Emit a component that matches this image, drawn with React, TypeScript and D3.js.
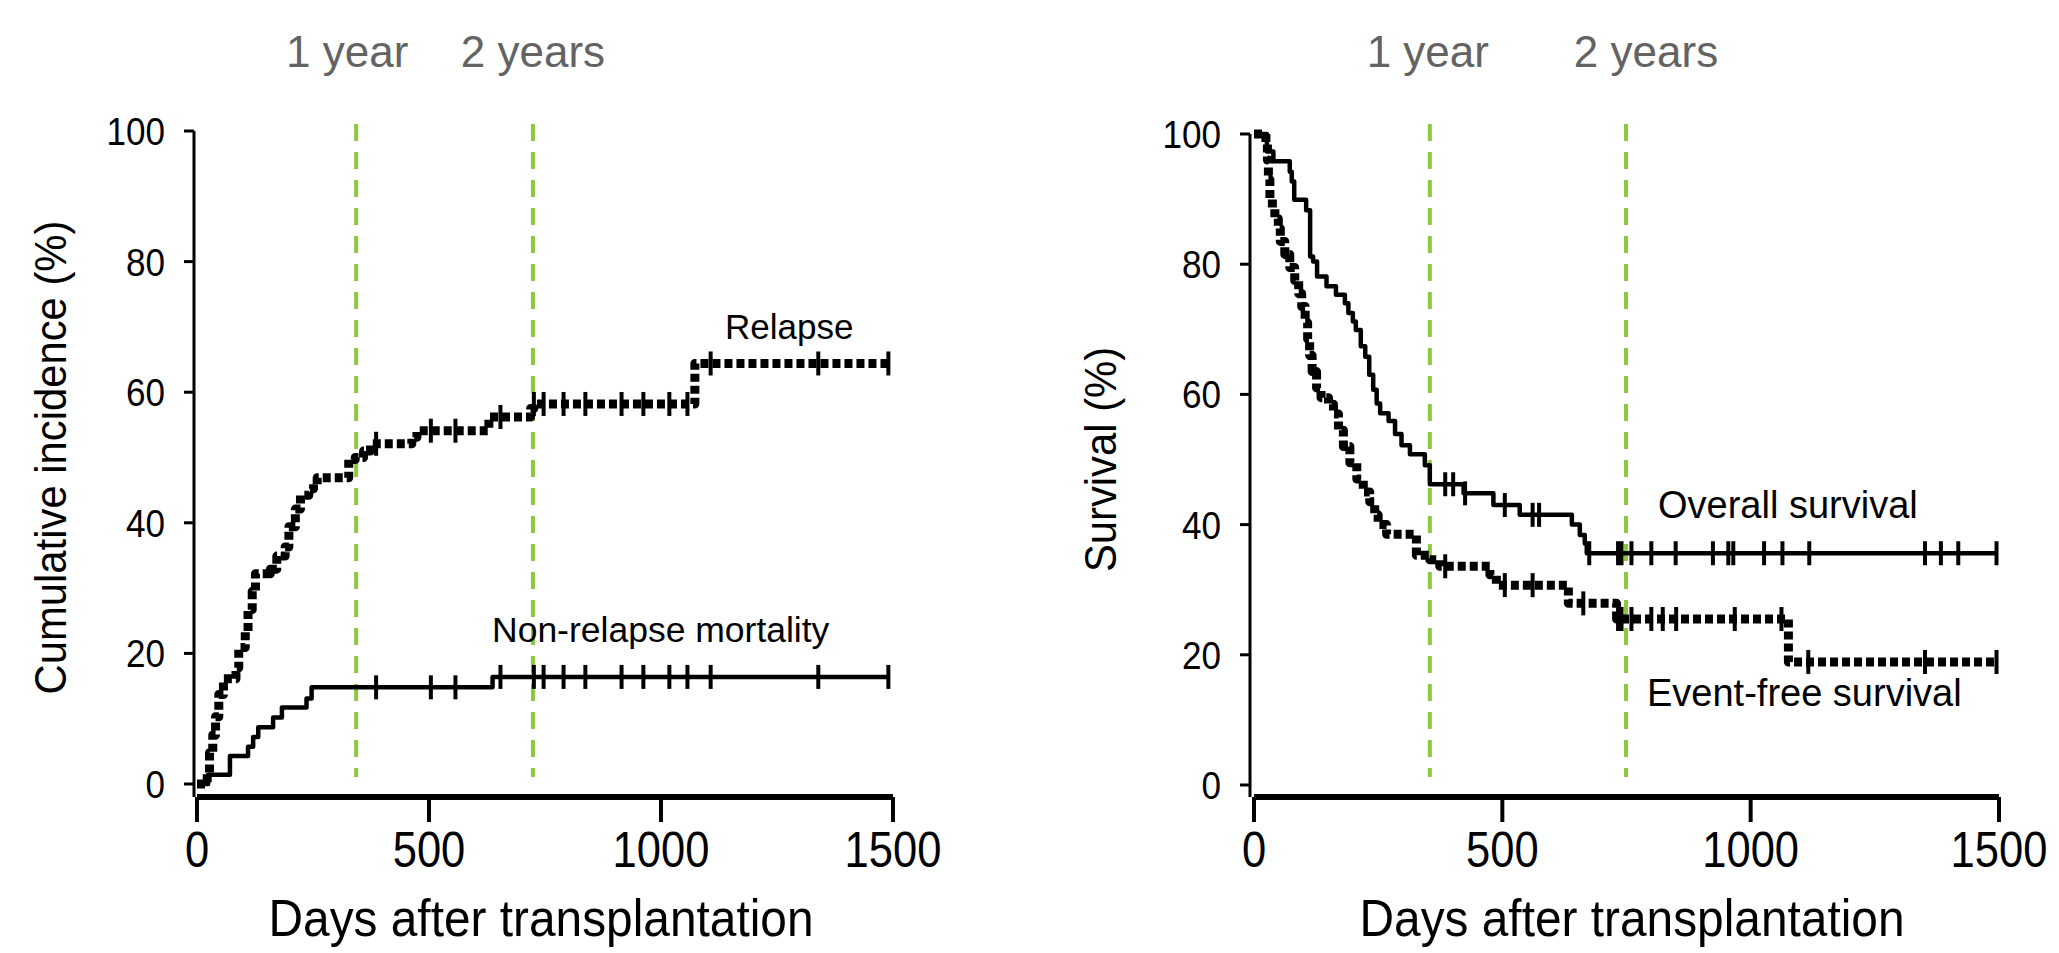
import React from 'react';
import * as d3 from 'd3';

// axis ticks
const dayTicks = [0, 500, 1000, 1500];
const pctTicks = [0, 20, 40, 60, 80, 100];
const yearLabels = ['1 year', '2 years'];

// left panel: cumulative incidence
const relapseDays = [0, 22, 27, 34, 40, 47, 57, 84, 90, 104, 110, 119, 126, 158, 172, 190, 198, 212, 223, 241, 251, 259, 327, 341, 359, 374, 463, 474, 629, 719, 726, 1073];
const relapsePct = [0, 1.6, 4.8, 7.5, 10.3, 13.7, 16.1, 17.8, 20.9, 23.3, 26.7, 29.5, 32.2, 32.9, 34.9, 36.3, 39.4, 42.1, 44.2, 45.2, 45.9, 46.9, 49.7, 50.0, 51.0, 52.1, 53.1, 54.1, 56.2, 57.5, 58.2, 64.4];
const nrmDays = [0, 24, 71, 110, 121, 132, 164, 183, 236, 247, 637];
const nrmPct = [0, 1.4, 4.3, 5.7, 7.2, 8.7, 10.2, 11.7, 13.1, 14.8, 16.4];
const leftCensorDays = [386, 504, 557, 654, 726, 747, 790, 837, 915, 962, 1018, 1057, 1107, 1339, 1490];
const leftEndDay = 1490;
const leftYearDays = [343, 724];

// right panel: survival
const osDays = [0, 26, 39, 72, 76, 81, 105, 113, 119, 127, 146, 165, 183, 190, 199, 205, 215, 224, 232, 240, 247, 254, 271, 284, 297, 314, 344, 354, 422, 482, 535, 640, 656, 666, 670];
const osPct = [100, 97.3, 95.8, 94.2, 92.7, 89.9, 88.3, 81.2, 80.4, 78.1, 76.6, 75.3, 74, 72.5, 71.2, 69.9, 67.4, 65.8, 63, 60.7, 58.6, 57.1, 55.9, 53.9, 52.2, 50.8, 49.1, 46.2, 44.8, 43, 41.5, 40, 38.4, 37.1, 35.6];
const osCensorDays = [385, 401, 425, 505, 561, 574, 675, 733, 740, 760, 800, 849, 924, 955, 965, 1027, 1064, 1118, 1351, 1383, 1418, 1495];
const efsDays = [0, 24, 27, 29, 32, 37, 42, 49, 53, 62, 72, 82, 90, 96, 103, 108, 112, 117, 126, 135, 150, 160, 170, 180, 193, 207, 220, 233, 243, 250, 267, 327, 354, 374, 475, 488, 633, 730, 1076];
const efsPct = [100, 98.5, 96, 93, 90, 88.5, 87, 85.5, 83.5, 81.5, 79.5, 77.5, 75.5, 73.5, 71, 68.5, 66, 63.5, 61, 59.5, 58.5, 57, 54.5, 52, 49.5, 47, 45, 43.5, 41.5, 40, 38.5, 35.3, 34.6, 33.6, 32.3, 30.7, 27.9, 25.5, 18.9];
const efsCensorDays = [385, 505, 561, 663, 733, 740, 760, 800, 823, 850, 968, 1062, 1116, 1351, 1495];
const rightEndDay = 1495;
const rightYearDays = [354, 749];

const FONT = '"Liberation Sans", Arial, Helvetica, sans-serif';

const valueAt = (days, pct, d) => {
  let v = pct[0];
  for (let i = 0; i < days.length; i++) if (days[i] <= d) v = pct[i];
  return v;
};

// the figure's black text is a bit condensed
const Narrow = ({ x, y, size, anchor = 'middle', squeeze = 0.87, dy, rotate = 0, children }) => (
  <text transform={`translate(${x},${y}) rotate(${rotate}) scale(${squeeze},1)`} dy={dy} textAnchor={anchor}
    fontSize={size} fontFamily={FONT}>{children}</text>
);

const Panel = ({ x0, x1, yTop, yBot, axisX, axisY, series, yearDays, yearOffsets, yLabel, yLabelX, xLabelX, notes }) => {
  const x = d3.scaleLinear().domain([0, 1500]).range([x0, x1]);
  const y = d3.scaleLinear().domain([0, 100]).range([yBot, yTop]);
  const line = d3.line().x(d => x(d[0])).y(d => y(d[1])).curve(d3.curveStepAfter);

  return (
    <g>
      {/* year markers */}
      {yearDays.map((d, i) => (
        <g key={'yr' + i}>
          <line x1={x(d)} x2={x(d)} y1={124} y2={777} stroke="#8fc73e" strokeWidth={4} strokeDasharray="17 11" />
          <text x={x(d) + yearOffsets[i]} y={67} textAnchor="middle" fontSize={44} fill="#636363" fontFamily={FONT}>{yearLabels[i]}</text>
        </g>
      ))}

      {/* curves */}
      {series.map((s, i) => {
        const pts = s.days.map((d, j) => [d, s.pct[j]]);
        pts.push([s.end, s.pct[s.pct.length - 1]]);
        return (
          <g key={'s' + i}>
            <path d={line(pts)} fill="none" stroke="#000" strokeWidth={s.dotted ? 9 : 4.5}
              strokeDasharray={s.dotted ? '8 4' : undefined} strokeLinejoin="round" />
            {s.censors.map((c, j) => {
              const v = valueAt(s.days, s.pct, c);
              return <line key={j} x1={x(c)} x2={x(c)} y1={y(v) - 12} y2={y(v) + 12} stroke="#000" strokeWidth={4} />;
            })}
          </g>
        );
      })}

      {/* y axis */}
      <line x1={axisX} x2={axisX} y1={yTop} y2={axisY} stroke="#000" strokeWidth={3} />
      {pctTicks.map(t => (
        <g key={'yt' + t}>
          <line x1={axisX - 10} x2={axisX} y1={y(t)} y2={y(t)} stroke="#000" strokeWidth={3} />
          <Narrow x={axisX - 29} y={y(t)} dy="0.36em" anchor="end" size={39} squeeze={0.9}>{t}</Narrow>
        </g>
      ))}
      <Narrow x={yLabelX} y={(yTop + yBot) / 2} rotate={-90} size={44} squeeze={0.95}>{yLabel}</Narrow>

      {/* x axis */}
      <line x1={x(0)} x2={x(1500)} y1={axisY} y2={axisY} stroke="#000" strokeWidth={6} />
      {dayTicks.map(t => (
        <g key={'xt' + t}>
          <line x1={x(t)} x2={x(t)} y1={axisY} y2={axisY + 25} stroke="#000" strokeWidth={4} />
          <Narrow x={x(t)} y={867} size={50} squeeze={0.87}>{t}</Narrow>
        </g>
      ))}
      <Narrow x={xLabelX} y={936} size={52} squeeze={0.92}>Days after transplantation</Narrow>

      {notes.map((n, i) => (
        <text key={'n' + i} x={n.x} y={n.y} fontSize={n.size} fontFamily={FONT}>{n.text}</text>
      ))}
    </g>
  );
};

export default function App() {
  return (
    <div style={{ position: 'absolute', left: 0, top: 0 }}>
      <svg width={2059} height={953} style={{ display: 'block', background: '#fff' }}>
        <Panel
          x0={197} x1={893} yTop={131} yBot={784} axisX={194} axisY={797}
          series={[
            { days: relapseDays, pct: relapsePct, end: leftEndDay, censors: leftCensorDays, dotted: true },
            { days: nrmDays, pct: nrmPct, end: leftEndDay, censors: leftCensorDays, dotted: false },
          ]}
          yearDays={leftYearDays} yearOffsets={[-9, 0]}
          yLabel="Cumulative incidence (%)" yLabelX={66} xLabelX={541}
          notes={[
            { text: 'Relapse', x: 725, y: 339, size: 35 },
            { text: 'Non-relapse mortality', x: 492, y: 642, size: 35.5 },
          ]}
        />
        <Panel
          x0={1254} x1={1999} yTop={134} yBot={785} axisX={1250} axisY={797}
          series={[
            { days: efsDays, pct: efsPct, end: rightEndDay, censors: efsCensorDays, dotted: true },
            { days: osDays, pct: osPct, end: rightEndDay, censors: osCensorDays, dotted: false },
          ]}
          yearDays={rightYearDays} yearOffsets={[-2, 20]}
          yLabel="Survival (%)" yLabelX={1116} xLabelX={1632}
          notes={[
            { text: 'Overall survival', x: 1658, y: 518, size: 38 },
            { text: 'Event-free survival', x: 1647, y: 706, size: 38 },
          ]}
        />
      </svg>
    </div>
  );
}
